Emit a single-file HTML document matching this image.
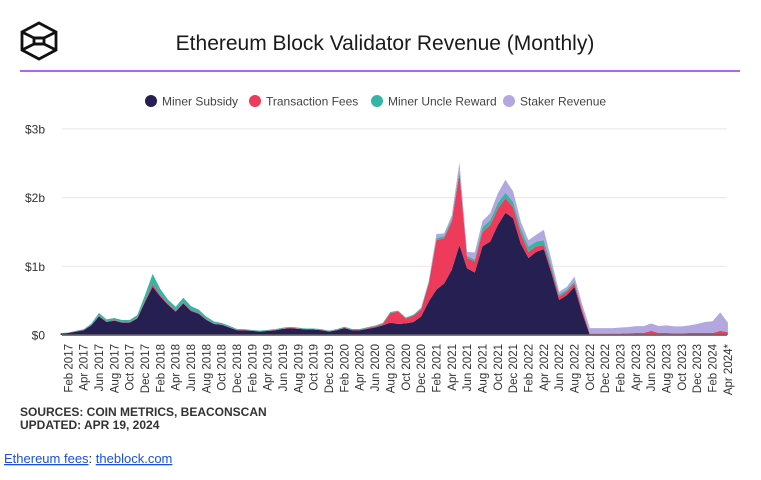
<!DOCTYPE html>
<html><head><meta charset="utf-8"><style>
body{margin:0;background:#fff;width:761px;height:475px;overflow:hidden;font-family:"Liberation Sans",sans-serif;}
svg text{font-family:"Liberation Sans",sans-serif;}
</style></head><body>
<svg width="761" height="475" viewBox="0 0 761 475">
<g fill="none" stroke="#111" stroke-width="2.8">
<polygon points="39,23 56,32 56,50 39,59 22,50 22,32"/>
<polyline points="22,32 34,38 44,38 56,32"/>
<polyline points="22,50 34,44 44,44 56,50"/>
<rect x="34" y="38" width="10" height="6"/>
</g>
<text x="385" y="50" text-anchor="middle" font-size="21" fill="#1a1a1a">Ethereum Block Validator Revenue (Monthly)</text>
<line x1="20" y1="71" x2="740" y2="71" stroke="#b563ef" stroke-width="2"/>
<g id="legend" font-size="12" fill="#444"></g>
<g id="grid"></g>
<g id="areas"></g>
<g id="xlabels" font-size="11.5" fill="#333"></g>
<text x="20" y="416" font-size="12" font-weight="bold" fill="#333">SOURCES: COIN METRICS, BEACONSCAN</text>
<text x="20" y="429" font-size="12" font-weight="bold" fill="#333">UPDATED: APR 19, 2024</text>
<text x="4" y="463" font-size="13" fill="#222"><tspan fill="#1a4fe0" text-decoration="underline">Ethereum fees</tspan>: <tspan fill="#1a4fe0" text-decoration="underline">theblock.com</tspan></text>
</svg>
<script>
const months=["Jan","Feb","Mar","Apr","May","Jun","Jul","Aug","Sep","Oct","Nov","Dec"];
const seriesNames=["Miner Subsidy","Transaction Fees","Miner Uncle Reward","Staker Revenue"];
const seriesColors=["#261f52","#ee3a5b","#36b5a5","#b3a7df"];
const yTicks=[0,1,2,3];
const yTickLabels=["$0","$1b","$2b","$3b"];
const subsidy=[0.02,0.03,0.05,0.07,0.14,0.27,0.19,0.21,0.18,0.18,0.24,0.48,0.70,0.56,0.44,0.34,0.46,0.35,0.31,0.22,0.16,0.15,0.11,0.07,
0.07,0.06,0.05,0.06,0.07,0.09,0.10,0.09,0.08,0.08,0.07,0.05,
0.07,0.10,0.07,0.07,0.09,0.11,0.14,0.18,0.16,0.17,0.19,0.27,
0.49,0.66,0.75,0.95,1.31,0.97,0.91,1.29,1.36,1.60,1.78,1.70,
1.33,1.12,1.21,1.25,0.90,0.51,0.58,0.70,0.32,0,0,0,
0,0,0,0,0,0,0,0,0,0,0,0,0,0,0,0];
const fees=[0.002,0.002,0.003,0.004,0.006,0.01,0.008,0.008,0.008,0.008,0.01,0.02,0.04,0.02,0.015,0.012,0.012,0.01,0.01,0.008,0.006,0.005,0.004,0.003,
0.003,0.003,0.003,0.004,0.005,0.006,0.006,0.006,0.005,0.005,0.005,0.004,
0.005,0.008,0.008,0.008,0.01,0.015,0.02,0.14,0.18,0.07,0.09,0.10,
0.26,0.72,0.66,0.70,1.04,0.15,0.16,0.21,0.24,0.24,0.21,0.16,
0.15,0.09,0.08,0.06,0.05,0.05,0.05,0.05,0.05,0.02,0.02,0.02,
0.02,0.02,0.025,0.03,0.03,0.06,0.03,0.03,0.025,0.025,0.03,0.03,0.03,0.03,0.06,0.04];
const uncle=[0.003,0.005,0.008,0.01,0.02,0.04,0.03,0.03,0.03,0.03,0.04,0.08,0.15,0.09,0.06,0.06,0.07,0.06,0.05,0.04,0.03,0.02,0.02,0.015,
0.01,0.01,0.01,0.01,0.01,0.012,0.012,0.012,0.01,0.01,0.01,0.01,
0.01,0.012,0.01,0.01,0.012,0.012,0.015,0.015,0.015,0.015,0.015,0.02,
0.02,0.03,0.03,0.04,0.05,0.03,0.03,0.07,0.07,0.08,0.08,0.08,
0.07,0.08,0.07,0.07,0.05,0.03,0.03,0.03,0.01,0,0,0,
0,0,0,0,0,0,0,0,0,0,0,0,0,0,0,0];
const staker=[0,0,0,0,0,0,0,0,0,0,0,0,0,0,0,0,0,0,0,0,0,0,0,0,
0,0,0,0,0,0,0,0,0,0,0,0,
0,0,0,0,0,0,0,0,0,0,0,0.01,
0.02,0.06,0.04,0.05,0.11,0.06,0.10,0.09,0.10,0.14,0.19,0.15,
0.10,0.09,0.10,0.15,0.09,0.04,0.04,0.07,0.07,0.08,0.08,0.08,
0.08,0.09,0.09,0.10,0.10,0.11,0.10,0.11,0.10,0.10,0.11,0.13,0.16,0.17,0.27,0.14];
const series=[subsidy,fees,uncle,staker];
const NS="http://www.w3.org/2000/svg";
const x0=60.6,dx=7.67,y0=335,yPer=68.7,plotL=62,plotR=727;
function xs(i){return x0+i*dx;}
function ys(v){return y0-v*yPer;}
function mk(t,a,p){const e=document.createElementNS(NS,t);for(const k in a)e.setAttribute(k,a[k]);p.appendChild(e);return e;}
const lg=document.getElementById('legend');
const lx=[151,255,377,509];
seriesNames.forEach((n,k)=>{
 const c=mk('circle',{cx:lx[k],cy:101,r:6,fill:seriesColors[k]},lg);
 
 
 const t=mk('text',{x:lx[k]+11,y:105.5},lg);t.textContent=n;
 
 
});
const g=document.getElementById('grid');
yTicks.forEach((v,k)=>{
 const l=mk('line',{x1:plotL,x2:plotR,y1:ys(v),y2:ys(v),stroke:v===0?'#777':'#ececec','stroke-width':v===0?1.5:1.2},g);
 
 
 const t=mk('text',{x:45,y:ys(v)+4.5,'text-anchor':'end','font-size':12,fill:'#333'},g);t.textContent=yTickLabels[k];
 
 
});
const ag=document.getElementById('areas');
const n=subsidy.length;
let base=new Array(n).fill(0);
series.forEach((s,k)=>{
 const top=base.map((b,i)=>b+s[i]);
 let d='M'+xs(0)+','+ys(top[0]);
 for(let i=1;i<n;i++)d+='L'+xs(i)+','+ys(top[i]);
 for(let i=n-1;i>=0;i--)d+='L'+xs(i)+','+ys(base[i]);
 d+='Z';
 const p=mk('path',{d:d,fill:seriesColors[k]},ag);
 
 
 base=top;
});
mk('line',{x1:plotL,x2:plotR,y1:y0,y2:y0,stroke:'#666','stroke-width':1.5},ag);
const xl=document.getElementById('xlabels');
for(let i=1;i<n;i+=2){
 const yr=2017+Math.floor(i/12);
 let lab=months[i%12]+' '+yr;if(i===n-1)lab+='*';
 const x=xs(i)+4;
 const t=mk('text',{x:0,y:0,'text-anchor':'end',transform:'translate('+x+',344) rotate(-90)'},xl);
 t.textContent=lab;
 
 
}
</script>
</body></html>
